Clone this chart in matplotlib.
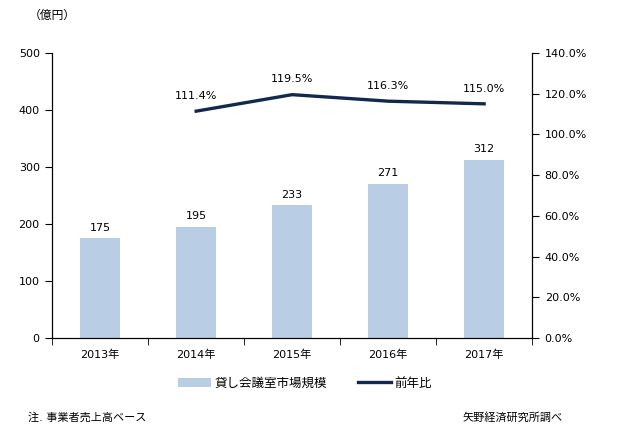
import matplotlib.pyplot as plt
from matplotlib.ticker import FuncFormatter

plt.rcParams['font.family'] = ['DejaVu Sans', 'Noto Sans CJK JP']
plt.rcParams['font.size'] = 8

years = ['2013年', '2014年', '2015年', '2016年', '2017年']
market = [175, 195, 233, 271, 312]
yoy_years = [1, 2, 3, 4]
yoy = [111.4, 119.5, 116.3, 115.0]

bar_color = '#B9CDE5'
line_color = '#13284F'

fig = plt.figure(figsize=(6.29, 4.48), dpi=100)
ax = fig.add_axes([0.083, 0.245, 0.763, 0.637])
x = list(range(len(years)))
bars = ax.bar(x, market, width=0.42, color=bar_color, label='貸し会議室市場規模', zorder=2)
for xi, v in zip(x, market):
    ax.text(xi, v + 10, str(v), ha='center', va='bottom', fontsize=8)

ax.set_ylim(0, 500)
ax.set_yticks(range(0, 501, 100))
ax.set_xlim(-0.5, len(years) - 0.5)
ax.set_xticks(x)
ax.set_xticklabels(years)
ax.set_xticks([i - 0.5 for i in range(len(years) + 1)], minor=True)
ax.tick_params(axis='x', which='major', length=0, pad=8)
ax.tick_params(axis='x', which='minor', length=5, direction='out')
ax.tick_params(axis='y', length=5, direction='out', pad=4)
ax.spines['top'].set_visible(False)

ax2 = ax.twinx()
line, = ax2.plot(yoy_years, yoy, color=line_color, linewidth=2.4, label='前年比')
for xi, v in zip(yoy_years, yoy):
    ax2.text(xi, v + 5, f'{v:.1f}%', ha='center', va='bottom', fontsize=8)
ax2.set_ylim(0, 140)
ax2.set_yticks(range(0, 141, 20))
ax2.yaxis.set_major_formatter(FuncFormatter(lambda v, p: f'{v:.1f}%'))
ax2.tick_params(axis='y', length=5, direction='out', pad=4)
ax2.spines['top'].set_visible(False)

fig.text(0.045, 0.965, '（億円）', fontsize=8.5, va='center')
fig.legend(handles=[bars, line], loc='center', bbox_to_anchor=(0.485, 0.145),
           ncol=2, frameon=False, fontsize=9, handlelength=2.6, columnspacing=2.5,
           handletextpad=0.3)
fig.text(0.045, 0.068, '注. 事業者売上高ベース', fontsize=8, va='center')
fig.text(0.895, 0.068, '矢野経済研究所調べ', fontsize=8, va='center', ha='right')

fig.savefig('out.png', dpi=100)
